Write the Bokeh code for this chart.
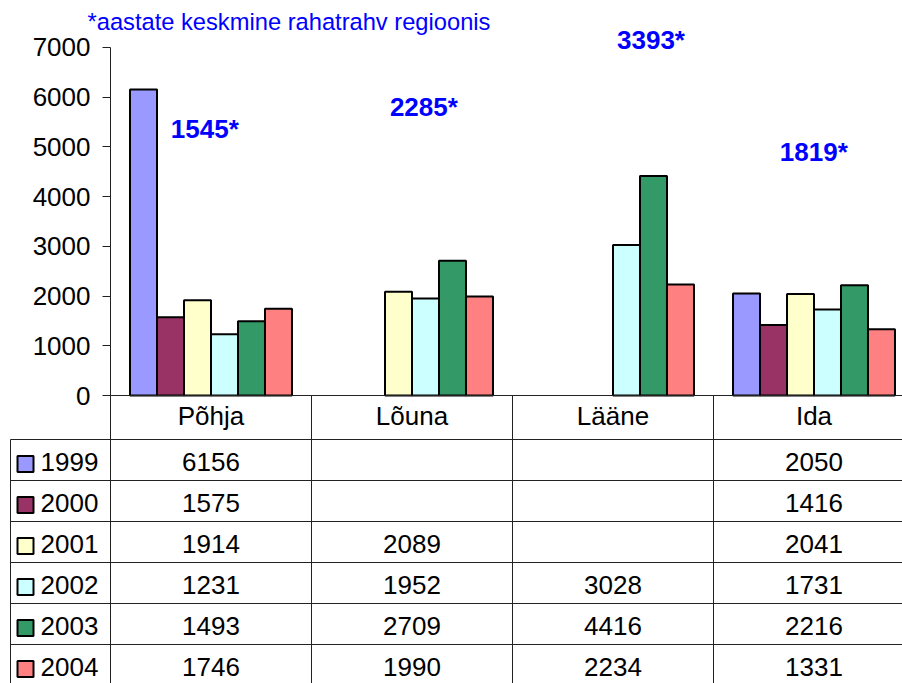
from bokeh.plotting import figure
from bokeh.models import Range1d, FixedTicker
from bokeh.core.properties import value
from bokeh.embed import file_html
from bokeh.resources import INLINE

# ---- data ----
regions = ["Põhja", "Lõuna", "Lääne", "Ida"]
years = ["1999", "2000", "2001", "2002", "2003", "2004"]
v1999 = [6156, None, None, 2050]
v2000 = [1575, None, None, 1416]
v2001 = [1914, 2089, None, 2041]
v2002 = [1231, 1952, 3028, 1731]
v2003 = [1493, 2709, 4416, 2216]
v2004 = [1746, 1990, 2234, 1331]
averages = [1545, 2285, 3393, 1819]
note = "*aastate keskmine rahatrahv regioonis"
y_ticks = [0, 1000, 2000, 3000, 4000, 5000, 6000, 7000]

series = [v1999, v2000, v2001, v2002, v2003, v2004]
colors = ["#9999FF", "#993366", "#FFFFCC", "#CCFFFF", "#339966", "#FF8080"]

FONT = "Liberation Sans"
LINE = "#222222"

# ---- layout ----
W, H = 902, 683
x_start, x_end = -0.5473, 3.9403     # category units (1 unit = one table column)
y_start, y_end = -5793.1, 7945.4     # value units for the chart part
bw = 0.1343                          # bar width in category units
# table rows on their own range (1 unit = one row)
t_top, t_bottom = -10.707, 5.951
header_top = -1.073
left_edge = -0.4975

p = figure(width=W, height=H, x_range=Range1d(x_start, x_end), y_range=Range1d(y_start, y_end),
           output_backend="svg", toolbar_location=None, x_axis_location=None,
           min_border_left=0, min_border_right=0, min_border_top=0, min_border_bottom=0)
p.extra_y_ranges = {"table": Range1d(start=t_bottom, end=t_top)}
p.outline_line_color = None
p.xgrid.visible = False
p.ygrid.visible = False
p.background_fill_color = "white"
p.border_fill_color = "white"

ax = p.yaxis[0]
ax.fixed_location = 0
ax.ticker = FixedTicker(ticks=y_ticks)
ax.bounds = (0, 7000)
ax.major_tick_out = 8
ax.major_tick_in = 0
ax.minor_tick_line_color = None
ax.major_label_text_font = FONT
ax.major_label_text_font_size = "26px"
ax.major_label_text_color = "black"
ax.major_label_standoff = 12
ax.axis_line_color = LINE
ax.major_tick_line_color = LINE

# ---- bars ----
n = len(years)
for j, (vals, col) in enumerate(zip(series, colors)):
    xs = [i + 0.5 + (j - (n - 1) / 2) * bw for i, v in enumerate(vals) if v is not None]
    tops = [v for v in vals if v is not None]
    p.vbar(x=xs, top=tops, bottom=0, width=bw, fill_color=col,
           line_color="black", line_width=2)

# category baseline / top of table
p.segment(x0=[0], y0=[0], x1=[x_end], y1=[0], line_color=LINE, line_width=1)

# ---- average labels and note ----
avg_x = [0.30, 1.39, 2.52, 3.33]
avg_y = [5351, 5803, 7141, 4888]
p.text(x=avg_x, y=avg_y, text=[f"{a}*" for a in averages], text_color="#0000FF",
       text_font=value(FONT), text_font_size="26px", text_font_style="bold",
       text_align="left", text_baseline="alphabetic")
p.text(x=[-0.1144], y=[7503], text=[note], text_color="#0000FF",
       text_font=value(FONT), text_font_size="23.7px",
       text_align="left", text_baseline="alphabetic")

# ---- data table ----
nrows = len(years)
ncols = len(regions)
col_x = list(range(ncols))
hy = list(range(nrows))
p.segment(x0=[left_edge] * nrows, y0=hy, x1=[x_end] * nrows, y1=hy,
          line_color=LINE, line_width=1, y_range_name="table")
p.segment(x0=col_x, y0=[header_top] * ncols, x1=col_x, y1=[t_bottom] * ncols,
          line_color=LINE, line_width=1, y_range_name="table")
p.segment(x0=[left_edge], y0=[0], x1=[left_edge], y1=[t_bottom],
          line_color=LINE, line_width=1, y_range_name="table")

p.text(x=[i + 0.5 for i in range(ncols)], y=[-0.573] * ncols, text=regions,
       text_font=value(FONT), text_font_size="26px", text_align="center",
       text_baseline="alphabetic", text_color="black", y_range_name="table")

p.scatter(x=[-0.4229] * nrows, y=[r + 0.598 for r in range(nrows)], marker="square", size=16,
          fill_color=colors, line_color="black", line_width=2, y_range_name="table")
p.text(x=[-0.348] * nrows, y=[r + 0.549 for r in range(nrows)], text=years,
       text_font=value(FONT), text_font_size="26px", text_align="left",
       text_baseline="alphabetic", text_color="black", y_range_name="table")

tx, ty, tt = [], [], []
for r, vals in enumerate(series):
    for i, v in enumerate(vals):
        if v is not None:
            tx.append(i + 0.5)
            ty.append(r + 0.549)
            tt.append(str(v))
p.text(x=tx, y=ty, text=tt, text_font=value(FONT), text_font_size="26px",
       text_align="center", text_baseline="alphabetic", text_color="black",
       y_range_name="table")

open("out.html", "w").write(file_html(p, INLINE))
